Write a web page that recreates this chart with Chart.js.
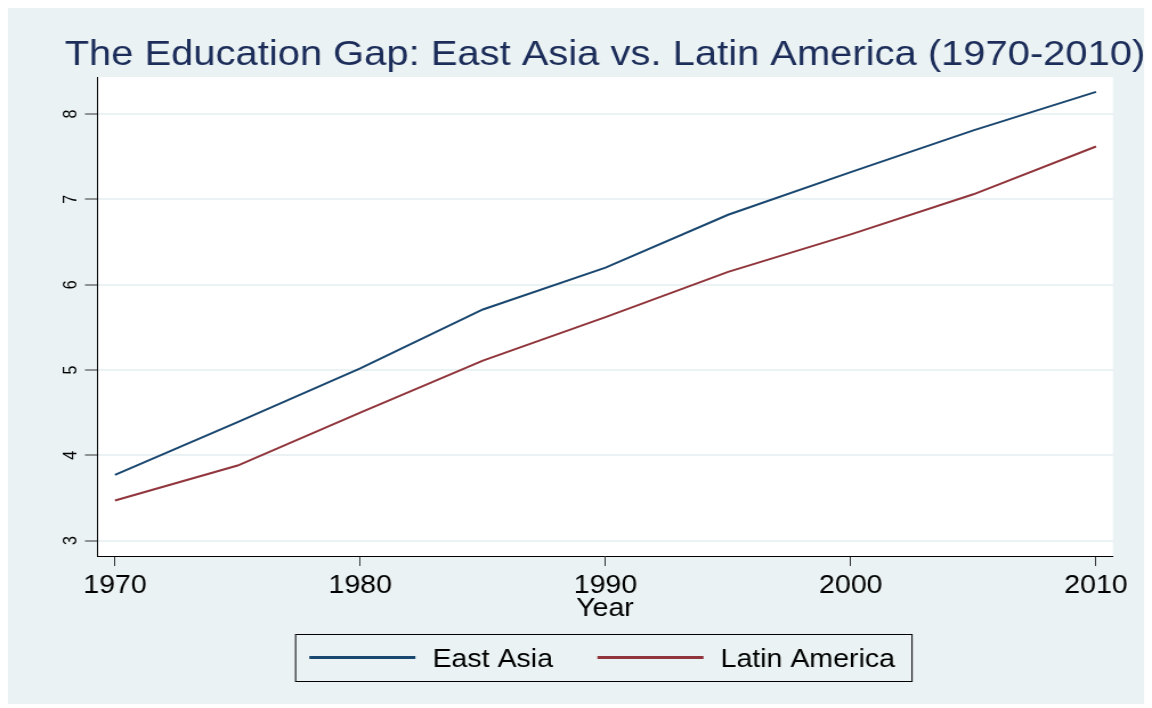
<!DOCTYPE html>
<html>
<head>
<meta charset="utf-8">
<script src="https://cdn.jsdelivr.net/npm/chart.js@4.4.1/dist/chart.umd.min.js"></script>
<style>
  html, body { margin: 0; padding: 0; background: #fff; }
  #chart { display: block; }
</style>
</head>
<body>
<!-- canvas is drawn narrower and stretched by CSS: the reference text is wide -->
<canvas id="chart" width="1010" height="708" style="width:1152px;height:708px"></canvas>
<script>
// --- Dados ---
const years = [1970, 1975, 1980, 1985, 1990, 1995, 2000, 2005, 2010];
const eastAsia = [3.77, 4.39, 5.02, 5.71, 6.20, 6.82, 7.32, 7.81, 8.26];
const latinAmerica = [3.47, 3.88, 4.50, 5.11, 5.62, 6.15, 6.59, 7.06, 7.62];
const xTicks = [1970, 1980, 1990, 2000, 2010];
const yTicks = [3, 4, 5, 6, 7, 8];
const seriesNames = ['East Asia', 'Latin America'];
const chartTitle = 'The Education Gap: East Asia vs. Latin America (1970-2010)';
const xTitle = 'Year';

const FONT = "'Liberation Sans', Arial, Helvetica, sans-serif";
const BG = '#eaf2f3';

// fundo azulado + area do grafico branca
const fundo = {
    id: 'fundo',
    beforeDraw(chart) {
        const { ctx, chartArea: a } = chart;
        ctx.save();
        ctx.fillStyle = '#fff';
        ctx.fillRect(0, 0, chart.width, chart.height);
        ctx.fillStyle = BG;
        ctx.fillRect(7, 8, 996, 696);
        ctx.fillStyle = '#fff';
        ctx.fillRect(a.left, a.top, a.right - a.left, a.bottom - a.top);
        ctx.restore();
    }
};

// titulo centrado na area do grafico (estilo Stata)
const titulo = {
    id: 'titulo',
    afterDraw(chart) {
        const { ctx, chartArea: a } = chart;
        ctx.save();
        ctx.font = `35px ${FONT}`;
        ctx.fillStyle = '#1c2d5a';
        ctx.textAlign = 'center';
        ctx.textBaseline = 'alphabetic';
        ctx.fillText(chartTitle, (a.left + a.right) / 2, 65);
        ctx.restore();
    }
};

// legenda com caixa
const legendaBox = {
    id: 'legendaBox',
    afterDraw(chart) {
        const { ctx, chartArea: a } = chart;
        const ds = chart.data.datasets;
        ctx.save();
        ctx.font = `25px ${FONT}`;
        const lineLen = 93, gap = 15, colGap = 39, padL = 12, padR = 15;
        const widths = ds.map(d => ctx.measureText(d.label).width);
        const total = padL + padR + ds.length * (lineLen + gap) +
            widths.reduce((s, w) => s + w, 0) + colGap * (ds.length - 1);
        const left = (a.left + a.right) / 2 - total / 2 - 1;
        const top = 634, h = 47, cy = top + h / 2;
        ctx.strokeStyle = '#000';
        ctx.lineWidth = 1;
        ctx.strokeRect(left, top + 0.5, total, h);
        let x = left + padL;
        ds.forEach((d, i) => {
            ctx.strokeStyle = d.borderColor;
            ctx.lineWidth = 3;
            ctx.beginPath();
            ctx.moveTo(x, cy);
            ctx.lineTo(x + lineLen, cy);
            ctx.stroke();
            x += lineLen + gap;
            ctx.fillStyle = '#000';
            ctx.textAlign = 'left';
            ctx.textBaseline = 'middle';
            ctx.fillText(d.label, x, cy + 2.5);
            x += widths[i] + colGap;
        });
        ctx.restore();
    }
};

const toPoints = vals => years.map((y, i) => ({ x: y, y: vals[i] }));

new Chart(document.getElementById('chart'), {
    type: 'line',
    data: {
        datasets: [
            {
                label: seriesNames[0],
                data: toPoints(eastAsia),
                borderColor: '#1a476f',
                borderWidth: 2,
                pointRadius: 0,
                tension: 0,
                fill: false
            },
            {
                label: seriesNames[1],
                data: toPoints(latinAmerica),
                borderColor: '#90353b',
                borderWidth: 2,
                pointRadius: 0,
                tension: 0,
                fill: false
            }
        ]
    },
    options: {
        responsive: false,
        animation: false,
        devicePixelRatio: 1,
        layout: { padding: { left: 45, right: 34.2, top: 77, bottom: 82 } },
        plugins: {
            legend: { display: false },
            title: { display: false },
            tooltip: { enabled: false }
        },
        scales: {
            x: {
                type: 'linear',
                min: 1969.265,
                max: 2010.693,
                afterBuildTicks: s => { s.ticks = xTicks.map(v => ({ value: v })); },
                afterFit: s => { s.height = 70; },
                grid: { drawOnChartArea: false, drawTicks: true, tickLength: 10, tickColor: '#333', tickWidth: 1 },
                border: { display: true, color: '#000', width: 1 },
                ticks: {
                    color: '#000',
                    font: { family: FONT, size: 25 },
                    padding: 5,
                    maxRotation: 0,
                    autoSkip: false,
                    callback: v => String(v)
                },
                title: {
                    display: true,
                    text: xTitle,
                    color: '#000',
                    font: { family: FONT, size: 25 },
                    padding: { top: 0, bottom: 2 }
                }
            },
            y: {
                type: 'linear',
                min: 2.82,
                max: 8.435,
                afterBuildTicks: s => { s.ticks = yTicks.map(v => ({ value: v })); },
                afterFit: s => { s.width = 40; },
                grid: { color: BG, lineWidth: 2, drawTicks: true, tickLength: 10.5, tickColor: '#333', tickWidth: 1 },
                border: { display: true, color: '#000', width: 1 },
                ticks: {
                    color: '#000',
                    font: { family: FONT, size: 16 },
                    padding: 7,
                    minRotation: 90,
                    maxRotation: 90,
                    crossAlign: 'center',
                    autoSkip: false,
                    callback: v => String(v)
                }
            }
        }
    },
    plugins: [fundo, titulo, legendaBox]
});
</script>
</body>
</html>
